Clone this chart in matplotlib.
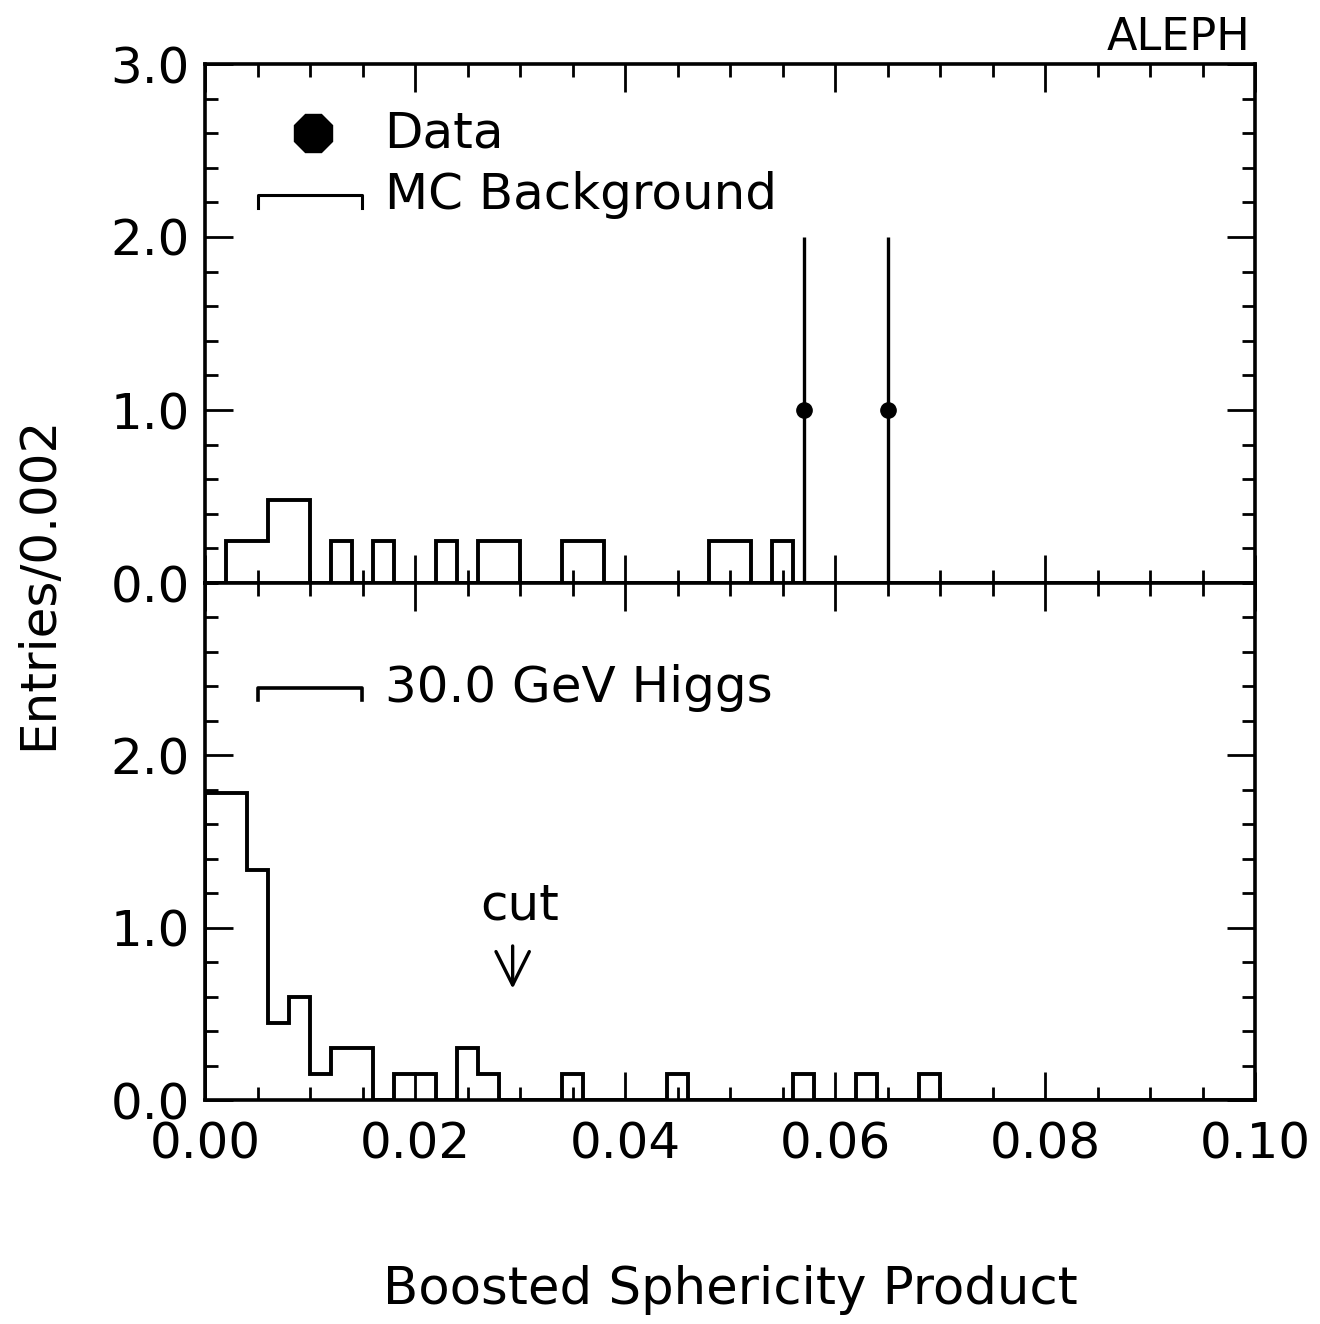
import matplotlib
matplotlib.use('Agg')
import matplotlib.pyplot as plt
import numpy as np

# bin edges: 0.000 .. 0.100 with width 0.002
bin_width = 0.002
n_bins = 50

# MC background (upper panel), entries per bin
mc_background = [0.00, 0.24, 0.24, 0.48, 0.48, 0.00, 0.24, 0.00, 0.24, 0.00,
                 0.00, 0.24, 0.00, 0.24, 0.24, 0.00, 0.00, 0.24, 0.24, 0.00,
                 0.00, 0.00, 0.00, 0.00, 0.24, 0.24, 0.00, 0.24, 0.00, 0.00,
                 0.00, 0.00, 0.00, 0.00, 0.00, 0.00, 0.00, 0.00, 0.00, 0.00,
                 0.00, 0.00, 0.00, 0.00, 0.00, 0.00, 0.00, 0.00, 0.00, 0.00]

# 30 GeV Higgs signal (lower panel)
higgs_signal = [1.78, 1.78, 1.335, 0.445, 0.595, 0.15, 0.30, 0.30, 0.00, 0.15,
                0.15, 0.00, 0.30, 0.15, 0.00, 0.00, 0.00, 0.15, 0.00, 0.00,
                0.00, 0.00, 0.15, 0.00, 0.00, 0.00, 0.00, 0.00, 0.15, 0.00,
                0.00, 0.15, 0.00, 0.00, 0.15, 0.00, 0.00, 0.00, 0.00, 0.00,
                0.00, 0.00, 0.00, 0.00, 0.00, 0.00, 0.00, 0.00, 0.00, 0.00]

# data points with errors
data_x = [0.057, 0.065]
data_y = [1.0, 1.0]
data_err = [1.0, 1.0]

edges = np.arange(n_bins + 1) * bin_width

fs = 36
lw = 2.8
plt.rcParams['font.family'] = 'DejaVu Sans'

fig = plt.figure(figsize=(13.2, 13.24), dpi=100)
left, width = 205 / 1320, 1050 / 1320
y_mid = 1 - 583 / 1324
y_top = 1 - 64 / 1324
y_bot = 1 - 1100 / 1324
ax_top = fig.add_axes([left, y_mid, width, y_top - y_mid])
ax_bot = fig.add_axes([left, y_bot, width, y_mid - y_bot])


def style_axis(ax):
    ax.set_xlim(0, 0.1)
    ax.set_ylim(0, 3.0)
    ax.set_xticks(np.arange(0, 0.1001, 0.02))
    ax.set_xticks(np.arange(0, 0.1001, 0.005), minor=True)
    ax.set_yticks(np.arange(0, 3.01, 1.0))
    ax.set_yticks(np.arange(0, 3.01, 0.2), minor=True)
    ax.tick_params(which='both', direction='in', top=True, right=True,
                   width=2.0, labelsize=fs)
    ax.tick_params(which='major', length=20)
    ax.tick_params(which='minor', length=9.5)
    ax.tick_params(axis='y', pad=11)
    ax.tick_params(axis='x', pad=15)
    for s in ax.spines.values():
        s.set_linewidth(2.6)
    ax.yaxis.set_major_formatter(plt.FormatStrFormatter('%.1f'))
    ax.xaxis.set_major_formatter(plt.FormatStrFormatter('%.2f'))


style_axis(ax_top)
style_axis(ax_bot)
ax_top.tick_params(labelbottom=False)
ax_bot.set_yticks([0.0, 1.0, 2.0])

# upper panel: MC background histogram and data
ax_top.stairs(mc_background, edges, color='black', linewidth=lw, baseline=0)
ax_top.errorbar(data_x, data_y, yerr=data_err, fmt='o', color='black',
                markersize=11, elinewidth=2.4, capsize=0)

# legend drawn by hand
ax_top.plot([0.0103], [2.60], marker='8', markersize=30, color='black')
ax_top.text(0.0171, 2.60, 'Data', fontsize=fs, va='center', ha='left')
ax_top.plot([0.00505, 0.00505, 0.01495, 0.01495], [2.17, 2.24, 2.24, 2.17],
            color='black', linewidth=2.2)
ax_top.text(0.0171, 2.24, 'MC Background', fontsize=fs, va='center', ha='left')

# lower panel: Higgs signal
ax_bot.stairs(higgs_signal, edges, color='black', linewidth=lw, baseline=0)
ax_bot.plot([0.00505, 0.00505, 0.01495, 0.01495], [2.32, 2.39, 2.39, 2.32],
            color='black', linewidth=2.6)
ax_bot.text(0.0171, 2.39, '30.0 GeV Higgs', fontsize=fs, va='center', ha='left')

# cut arrow
ax_bot.text(0.0300, 1.13, 'cut', fontsize=fs, ha='center', va='center')
ax_bot.annotate('', xy=(0.0293, 0.63), xytext=(0.0293, 0.91),
                arrowprops=dict(arrowstyle='->', color='black', lw=2.4,
                                mutation_scale=60))

fig.text(1250 / 1320, 1 - 38 / 1324, 'ALEPH', fontsize=32, ha='right', va='center')
fig.text(38 / 1320, 1 - 583 / 1324, 'Entries/0.002', fontsize=fs,
         rotation=90, ha='center', va='center')
fig.text(730 / 1320, 1 - 1290 / 1324, 'Boosted Sphericity Product', fontsize=37,
         ha='center', va='center')

fig.savefig('out.png', dpi=100)
